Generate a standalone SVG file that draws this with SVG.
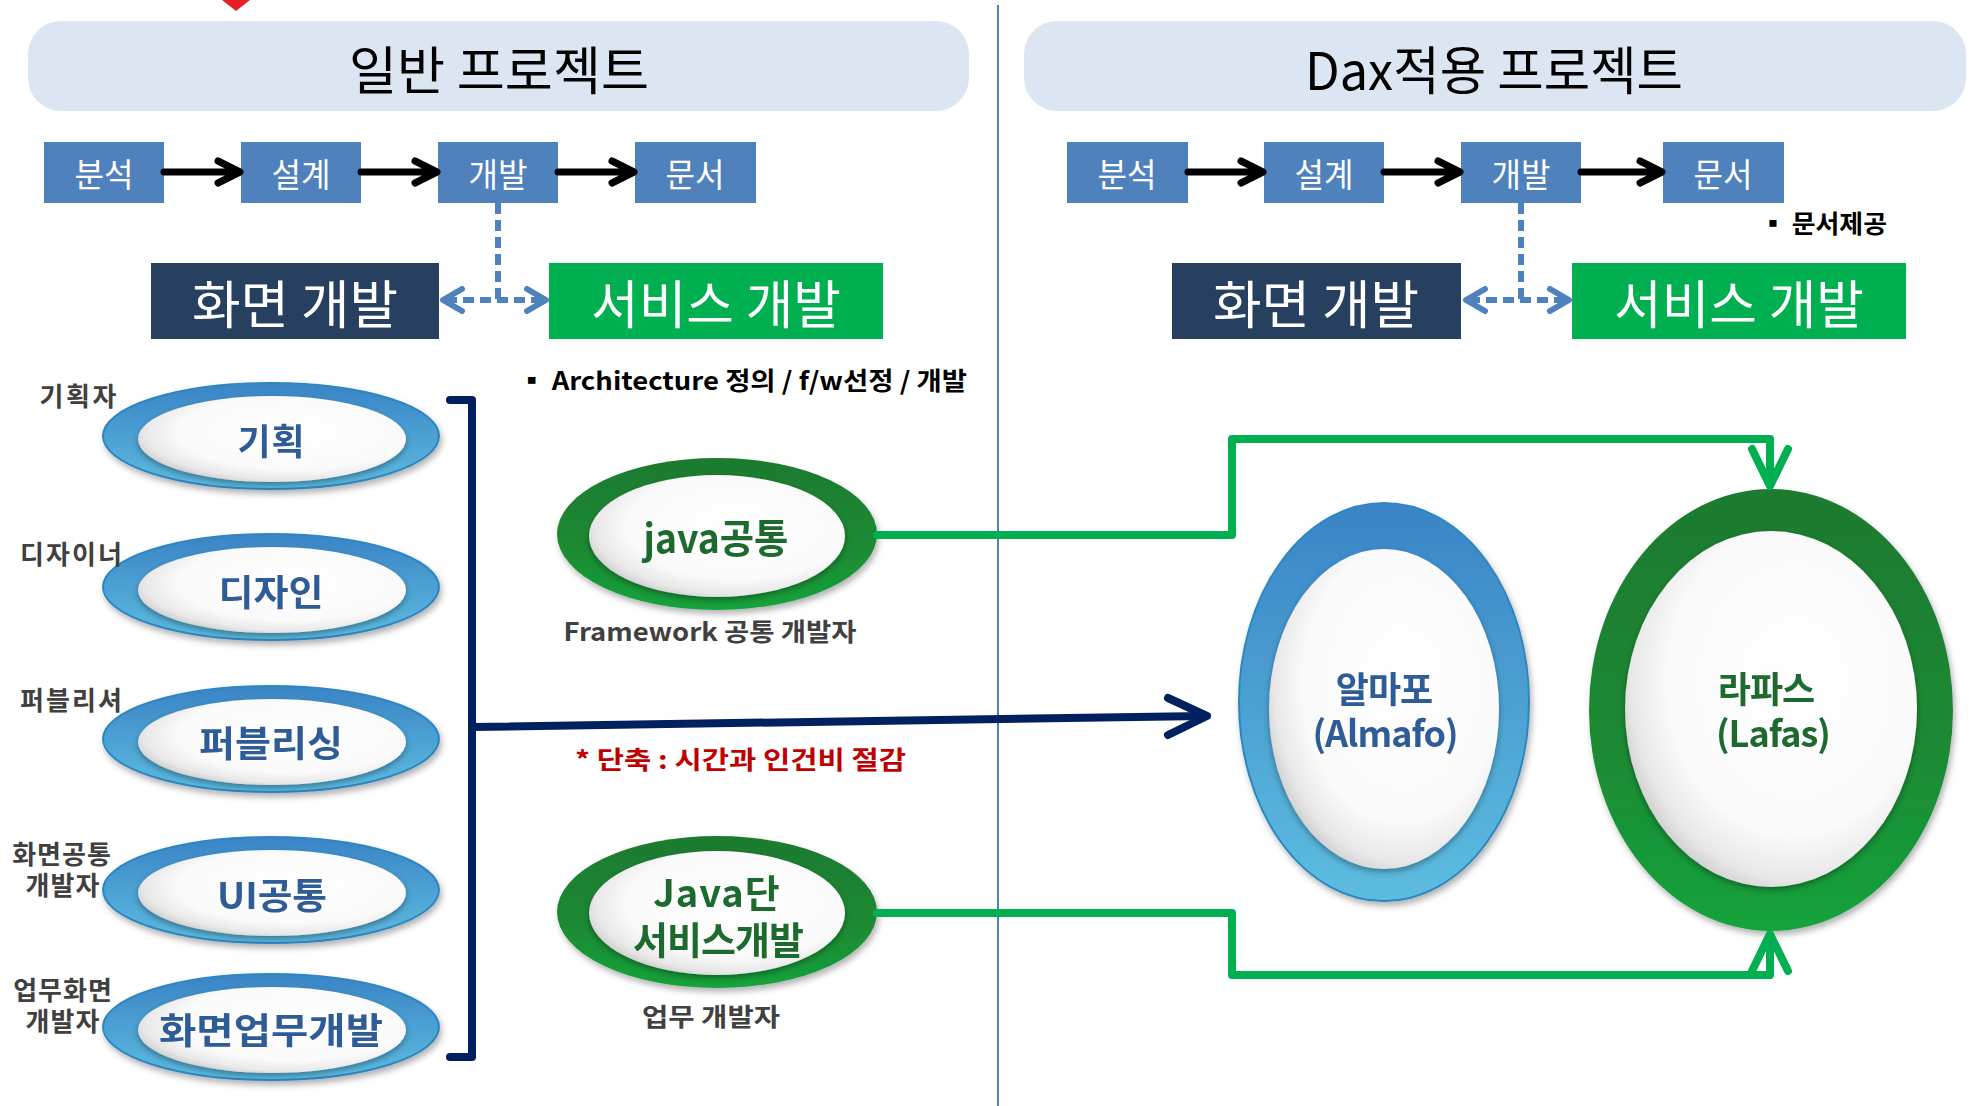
<svg xmlns="http://www.w3.org/2000/svg" width="1969" height="1106" viewBox="0 0 1969 1106">
<style>
  text { font-family: "Noto Sans CJK KR", "Noto Sans", sans-serif; }
  .title { font-size: 52px; fill: #000; text-anchor: middle; }
  .step { fill: #4f81bd; }
  .stepTxt { font-size: 33px; fill: #fff; text-anchor: middle; }
  .bigTxt { font-size: 52px; fill: #fff; text-anchor: middle; }
  .role { font-size: 26px; font-weight: bold; fill: #404040; text-anchor: middle; }
  .blueTxt { font-size: 36px; font-weight: bold; fill: #2f5b96; text-anchor: middle; }
  .greenTxt { font-size: 40px; font-weight: bold; fill: #1e6b2e; text-anchor: middle; }
  .note { font-size: 25px; font-weight: bold; fill: #000; }
  .blk { stroke: #000; stroke-width: 7; fill: none; stroke-linecap: round; stroke-linejoin: round; }
  .dash { stroke: #4f81bd; stroke-width: 6; fill: none; stroke-dasharray: 11 6; }
  .dashHead { stroke: #4f81bd; stroke-width: 6; fill: none; stroke-linecap: round; stroke-linejoin: round; }
  .green { stroke: #00b050; stroke-width: 8; fill: none; stroke-linejoin: round; stroke-linecap: round; }
  .navy { stroke: #002060; stroke-width: 8; fill: none; stroke-linecap: round; stroke-linejoin: round; }
</style>
<defs>
  <linearGradient id="blueRing" x1="0" y1="0" x2="0" y2="1">
    <stop offset="0" stop-color="#3a84c6"/>
    <stop offset="1" stop-color="#5dbde0"/>
  </linearGradient>
  <linearGradient id="greenRing" x1="0" y1="0" x2="0" y2="1">
    <stop offset="0" stop-color="#1e7a2f"/>
    <stop offset="0.6" stop-color="#1c8a33"/>
    <stop offset="1" stop-color="#14a33c"/>
  </linearGradient>
  <radialGradient id="pearl" cx="0.58" cy="0.42" r="0.62">
    <stop offset="0" stop-color="#ffffff"/>
    <stop offset="0.7" stop-color="#fafafa"/>
    <stop offset="0.9" stop-color="#e8e8e8"/>
    <stop offset="1" stop-color="#cfcfcf"/>
  </radialGradient>
  <filter id="shadow" x="-10%" y="-10%" width="120%" height="130%">
    <feDropShadow dx="2" dy="4" stdDeviation="3" flood-color="#000" flood-opacity="0.3"/>
  </filter>
  <filter id="inner" x="-10%" y="-10%" width="120%" height="130%">
    <feDropShadow dx="0" dy="3" stdDeviation="3" flood-color="#000" flood-opacity="0.35"/>
  </filter>
</defs>

<rect width="1969" height="1106" fill="#fff"/>

<!-- top red marker -->
<polygon points="222,0 250,0 236,11" fill="#e31e24"/>

<!-- divider -->
<line x1="998" y1="5" x2="998" y2="1106" stroke="#4f81bd" stroke-width="2"/>

<!-- Headers -->
<g id="title-general">
  <rect x="28" y="21" width="941" height="90" rx="33" fill="#dce6f2"/>
  <text class="title" x="499" y="90" textLength="300" lengthAdjust="spacingAndGlyphs">일반 프로젝트</text>
</g>
<g id="title-dax">
  <rect x="1024" y="21" width="942" height="90" rx="33" fill="#dce6f2"/>
  <text class="title" x="1494" y="90" textLength="378" lengthAdjust="spacingAndGlyphs">Dax적용 프로젝트</text>
</g>

<!-- Left steps -->
<g id="l-analysis"><rect class="step" x="44" y="142" width="120" height="61"/><text class="stepTxt" x="104" y="187" textLength="59" lengthAdjust="spacingAndGlyphs">분석</text></g>
<g id="l-design"><rect class="step" x="241" y="142" width="120" height="61"/><text class="stepTxt" x="301" y="187" textLength="59" lengthAdjust="spacingAndGlyphs">설계</text></g>
<g id="l-dev"><rect class="step" x="438" y="142" width="120" height="61"/><text class="stepTxt" x="498" y="187" textLength="59" lengthAdjust="spacingAndGlyphs">개발</text></g>
<g id="l-doc"><rect class="step" x="635" y="142" width="121" height="61"/><text class="stepTxt" x="695" y="187" textLength="59" lengthAdjust="spacingAndGlyphs">문서</text></g>

<!-- Right steps -->
<g id="r-analysis"><rect class="step" x="1067" y="142" width="121" height="61"/><text class="stepTxt" x="1127" y="187" textLength="59" lengthAdjust="spacingAndGlyphs">분석</text></g>
<g id="r-design"><rect class="step" x="1264" y="142" width="120" height="61"/><text class="stepTxt" x="1324" y="187" textLength="59" lengthAdjust="spacingAndGlyphs">설계</text></g>
<g id="r-dev"><rect class="step" x="1461" y="142" width="120" height="61"/><text class="stepTxt" x="1521" y="187" textLength="59" lengthAdjust="spacingAndGlyphs">개발</text></g>
<g id="r-doc"><rect class="step" x="1663" y="142" width="121" height="61"/><text class="stepTxt" x="1723" y="187" textLength="59" lengthAdjust="spacingAndGlyphs">문서</text></g>
<g id="r-doc-note"><text class="note" x="1760" y="233" textLength="127" lengthAdjust="spacingAndGlyphs">▪ 문서제공</text></g>

<!-- Dev boxes -->
<g id="l-screen"><rect x="151" y="263" width="288" height="76" fill="#27405f"/><text class="bigTxt" x="295" y="324" textLength="206" lengthAdjust="spacingAndGlyphs">화면 개발</text></g>
<g id="l-service"><rect x="549" y="263" width="334" height="76" fill="#00b050"/><text class="bigTxt" x="716" y="324" textLength="250" lengthAdjust="spacingAndGlyphs">서비스 개발</text></g>
<g id="r-screen"><rect x="1172" y="263" width="289" height="76" fill="#27405f"/><text class="bigTxt" x="1316" y="324" textLength="206" lengthAdjust="spacingAndGlyphs">화면 개발</text></g>
<g id="r-service"><rect x="1572" y="263" width="334" height="76" fill="#00b050"/><text class="bigTxt" x="1739" y="324" textLength="250" lengthAdjust="spacingAndGlyphs">서비스 개발</text></g>

<g id="arch-note"><text class="note" x="518" y="390" textLength="449" lengthAdjust="spacingAndGlyphs">▪ Architecture 정의 / f/w선정 / 개발</text></g>

<!-- Left role ellipses -->
<g id="n-plan" filter="url(#shadow)">
  <ellipse cx="271" cy="436" rx="168" ry="53" fill="url(#blueRing)" stroke="#2e86c1" stroke-width="2"/>
  <ellipse cx="272" cy="439" rx="134" ry="43" fill="url(#pearl)" filter="url(#inner)"/>
  <text class="blueTxt" x="271" y="455" textLength="67" lengthAdjust="spacing">기획</text>
</g>
<g id="n-designui" filter="url(#shadow)">
  <ellipse cx="271" cy="587" rx="168" ry="53" fill="url(#blueRing)" stroke="#2e86c1" stroke-width="2"/>
  <ellipse cx="272" cy="590" rx="134" ry="43" fill="url(#pearl)" filter="url(#inner)"/>
  <text class="blueTxt" x="271" y="606" textLength="105" lengthAdjust="spacingAndGlyphs">디자인</text>
</g>
<g id="n-publish" filter="url(#shadow)">
  <ellipse cx="271" cy="739" rx="168" ry="53" fill="url(#blueRing)" stroke="#2e86c1" stroke-width="2"/>
  <ellipse cx="272" cy="742" rx="134" ry="43" fill="url(#pearl)" filter="url(#inner)"/>
  <text class="blueTxt" x="271" y="757" textLength="144" lengthAdjust="spacingAndGlyphs">퍼블리싱</text>
</g>
<g id="n-uicommon" filter="url(#shadow)">
  <ellipse cx="271" cy="890" rx="168" ry="53" fill="url(#blueRing)" stroke="#2e86c1" stroke-width="2"/>
  <ellipse cx="272" cy="893" rx="134" ry="43" fill="url(#pearl)" filter="url(#inner)"/>
  <text class="blueTxt" x="272" y="909" textLength="110" lengthAdjust="spacingAndGlyphs">UI공통</text>
</g>
<g id="n-screenbiz" filter="url(#shadow)">
  <ellipse cx="271" cy="1027" rx="168" ry="53" fill="url(#blueRing)" stroke="#2e86c1" stroke-width="2"/>
  <ellipse cx="272" cy="1030" rx="134" ry="43" fill="url(#pearl)" filter="url(#inner)"/>
  <text class="blueTxt" x="271" y="1044" textLength="224" lengthAdjust="spacingAndGlyphs">화면업무개발</text>
</g>

<!-- role labels -->
<g id="roles">
  <text class="role" x="78" y="406" textLength="77" lengthAdjust="spacing">기획자</text>
  <text class="role" x="71" y="564" textLength="102" lengthAdjust="spacing">디자이너</text>
  <text class="role" x="71" y="710" textLength="102" lengthAdjust="spacing">퍼블리셔</text>
  <text class="role" style="letter-spacing:1px"><tspan x="62" y="864">화면공통</tspan><tspan x="63" y="895">개발자</tspan></text>
  <text class="role" style="letter-spacing:1px"><tspan x="63" y="1000">업무화면</tspan><tspan x="63" y="1031">개발자</tspan></text>
</g>

<!-- Java ellipses -->
<g id="n-javacommon" filter="url(#shadow)">
  <ellipse cx="717" cy="534" rx="160" ry="76" fill="url(#greenRing)"/>
  <ellipse cx="717" cy="536" rx="128" ry="61" fill="url(#pearl)" filter="url(#inner)"/>
  <text class="greenTxt" x="716" y="553" textLength="145" lengthAdjust="spacingAndGlyphs">java공통</text>
</g>
<g id="n-javacommon-label"><text class="role" x="710" y="641" style="font-size:25px" textLength="293" lengthAdjust="spacingAndGlyphs">Framework 공통 개발자</text></g>

<g id="n-javaservice" filter="url(#shadow)">
  <ellipse cx="717" cy="912" rx="160" ry="76" fill="url(#greenRing)"/>
  <ellipse cx="717" cy="913" rx="128" ry="62" fill="url(#pearl)" filter="url(#inner)"/>
  <text class="greenTxt" style="font-size:38px"><tspan x="717" y="907" style="letter-spacing:1px">Java단</tspan><tspan x="718" y="954" style="letter-spacing:-1px">서비스개발</tspan></text>
</g>
<g id="n-javaservice-label"><text class="role" x="711" y="1026" style="font-size:25px" textLength="138" lengthAdjust="spacingAndGlyphs">업무 개발자</text></g>

<g id="saving-note"><text class="note" x="575" y="769" style="fill:#c00000" textLength="331" lengthAdjust="spacingAndGlyphs">* 단축 : 시간과 인건비 절감</text></g>

<!-- Right big ellipses -->
<g id="n-almafo" filter="url(#shadow)">
  <ellipse cx="1384" cy="702" rx="145" ry="199" fill="url(#blueRing)" stroke="#2e86c1" stroke-width="2"/>
  <ellipse cx="1384" cy="709" rx="115" ry="160" fill="url(#pearl)" filter="url(#inner)"/>
  <text class="blueTxt"><tspan x="1384" y="703" style="letter-spacing:-1px">알마포</tspan><tspan x="1385" y="747" style="letter-spacing:-1px">(Almafo)</tspan></text>
</g>
<g id="n-lafas" filter="url(#shadow)">
  <ellipse cx="1771" cy="710" rx="182" ry="221" fill="url(#greenRing)"/>
  <ellipse cx="1771" cy="709" rx="146" ry="178" fill="url(#pearl)" filter="url(#inner)"/>
  <text class="blueTxt" style="fill:#1e6b2e"><tspan x="1766" y="703" style="letter-spacing:-1px">라파스</tspan><tspan x="1773" y="747" style="letter-spacing:-1px">(Lafas)</tspan></text>
</g>

<!-- Connectors -->
<g id="connectors">
  <path class="blk" d="M164,172 H239 M218,161 L240,172 L218,183"/>
  <path class="blk" d="M361,172 H436 M415,161 L437,172 L415,183"/>
  <path class="blk" d="M558,172 H633 M612,161 L634,172 L612,183"/>
  <path class="blk" d="M1188,172 H1262 M1241,161 L1263,172 L1241,183"/>
  <path class="blk" d="M1384,172 H1459 M1438,161 L1460,172 L1438,183"/>
  <path class="blk" d="M1581,172 H1661 M1640,161 L1662,172 L1640,183"/>

  <line class="dash" x1="498" y1="203" x2="498" y2="300"/>
  <line class="dash" x1="446" y1="300" x2="544" y2="300"/>
  <path class="dashHead" d="M462,289 L443,300 L462,311 M527,289 L546,300 L527,311"/>
  <line class="dash" x1="1521" y1="203" x2="1521" y2="300"/>
  <line class="dash" x1="1469" y1="300" x2="1567" y2="300"/>
  <path class="dashHead" d="M1485,289 L1466,300 L1485,311 M1550,289 L1569,300 L1550,311"/>

  <path class="navy" d="M450,400 H472 V1057 H450"/>
  <path class="navy" d="M472,727 L1204,716"/>
  <path class="navy" stroke-width="10" d="M1168,698 L1207,716 L1168,735"/>

  <path class="green" d="M877,535 H1232 V439 H1770 V484"/>
  <path class="green" d="M1752,449 L1770,486 L1788,449"/>
  <path class="green" d="M877,913 H1232 V975 H1770 V936"/>
  <path class="green" d="M1752,971 L1770,934 L1788,971"/>
</g>
</svg>
